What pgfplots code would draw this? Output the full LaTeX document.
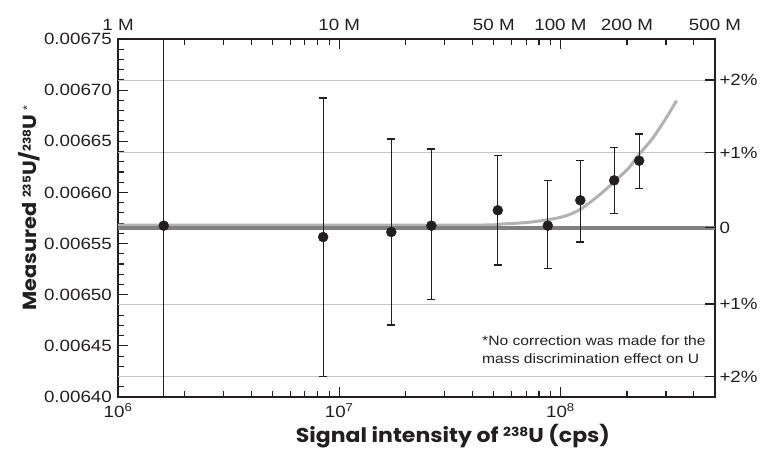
\documentclass[border=0pt]{standalone}
\usepackage{fontspec}
\setmainfont{Liberation Sans}[FakeStretch=1.15]
\newfontfamily\labelfont{Poppins}[FakeStretch=1.1]
\usepackage{pgfplots}
\pgfplotsset{compat=1.18}
\definecolor{ink}{HTML}{231F20}
\definecolor{zeroline}{HTML}{808080}
\definecolor{fitcurve}{HTML}{B2B2B2}
\definecolor{gridgray}{HTML}{C4C4C4}

\newcommand{\tickfont}{\fontsize{16.3bp}{18bp}\selectfont}
\newcommand{\axlabfont}{\labelfont\bfseries\fontsize{20bp}{22bp}\selectfont}
\newcommand{\iso}[1]{\raisebox{6.5bp}{\fontsize{12.5bp}{13bp}\selectfont #1}}
\newcommand{\isoy}[1]{\raisebox{6bp}{\fontsize{11bp}{12bp}\selectfont #1}}

\begin{document}
\begin{tikzpicture}
\useasboundingbox (-118bp,-64bp) rectangle (645bp,397bp);
\begin{axis}[
  scale only axis, width=597bp, height=358bp,
  xmode=log, xmin=1e6, xmax=5e8,
  ymin=0.0064, ymax=0.00675,
  scaled y ticks=false,
  xtick={1e6,1e7,1e8},
  xticklabels={10\textsuperscript{6},10\textsuperscript{7},10\textsuperscript{8}},
  minor xtick={2e6,3e6,4e6,5e6,6e6,7e6,8e6,9e6,2e7,3e7,4e7,5e7,6e7,7e7,8e7,9e7,2e8,3e8,4e8},
  ytick={0.0064,0.00645,0.0065,0.00655,0.0066,0.00665,0.0067,0.00675},
  yticklabels={0.00640,0.00645,0.00650,0.00655,0.00660,0.00665,0.00670,0.00675},
  minor y tick num=4,
  xtick pos=both, ytick pos=left,
  tick align=inside,
  major tick length=10bp, minor tick length=6bp,
  every tick/.style={ink, line width=1.1bp},
  axis line style={ink, line width=1.6bp},
  tick label style={font=\tickfont, text=ink},
  xticklabel style={yshift=-3bp},
  yticklabel style={inner sep=0pt, xshift=-6bp},
  extra y ticks={0.0064199,0.0064909,0.0066388,0.0067099},
  extra y tick labels={},
  extra y tick style={grid=major, major tick length=0pt,
    major grid style={draw=gridgray, line width=1bp}},
  xlabel={Signal intensity of \iso{238}U (cps)},
  ylabel={Measured \isoy{235}U/\isoy{238}U \isoy{\normalfont *}},
  label style={font=\axlabfont, text=ink},
  xlabel style={at={(ticklabel cs:0.561)}, anchor=north},
  ylabel style={at={(ticklabel cs:0.528)}, anchor=south,
    font=\labelfont\bfseries\fontsize{19bp}{21bp}\selectfont},
  clip=true,
]
% fitted trend
\addplot[fitcurve, line width=3bp, smooth, forget plot] coordinates {
  (1e6,0.006568) (3.5e7,0.006568) (5.5e7,0.0065692) (7.5e7,0.0065712)
  (1.024e8,0.0065762) (1.231e8,0.0065835) (1.5e8,0.0065975)
  (1.753e8,0.0066105) (2.049e8,0.0066246) (2.257e8,0.0066366)
  (2.61e8,0.0066529) (3.0e8,0.0066725) (3.35e8,0.0066897)
};
% reference ratio line
\addplot[zeroline, line width=4bp, forget plot] coordinates {(1e6,0.0065655) (5e8,0.0065655)};
% measurements
\addplot[ink, only marks, mark=*, mark size=5bp,
  mark options={fill=ink, draw=ink},
  error bars/.cd, y dir=both, y explicit,
  error bar style={ink, line width=1.2bp},
  error mark options={rotate=90, mark size=4bp, line width=1.2bp, ink}]
coordinates {
  (1.61e6,0.0065675) +- (0,0.00025)
  (8.46e6,0.0065564) +- (0,0.000136)
  (1.72e7,0.0065613) +- (0,0.000091)
  (2.61e7,0.0065675) += (0,0.000075) -= (0,0.000072)
  (5.21e7,0.0065825) +- (0,0.0000534)
  (8.77e7,0.0065675) += (0,0.0000443) -= (0,0.0000415)
  (1.23e8,0.0065923) += (0,0.0000387) -= (0,0.0000408)
  (1.75e8,0.0066118) +- (0,0.0000323)
  (2.27e8,0.006631) += (0,0.0000261) -= (0,0.0000274)
};
\node[anchor=north west, align=left, inner sep=0pt, text=ink,
  font=\fontsize{13.6bp}{18bp}\selectfont]
  at (rel axis cs:0.6097,0.173)
  {*No correction was made for the\\mass discrimination effect on U};
\end{axis}
% top scale and right-hand deviation scale
\begin{axis}[
  scale only axis, width=597bp, height=358bp,
  xmode=log, xmin=1e6, xmax=5e8,
  ymin=0.0064, ymax=0.00675,
  scaled y ticks=false,
  axis line style={draw=none},
  xtick pos=right, xticklabel pos=right,
  ytick pos=right, yticklabel pos=right,
  xtick={1e6,1e7,5e7,1e8,2e8,5e8},
  xticklabels={1 M,10 M,50 M,100 M,200 M,500 M},
  xminorticks=false, yminorticks=false,
  xtick style={draw=none},
  ytick={0.0064199,0.0064909,0.0065655,0.0066388,0.0067099},
  yticklabels={+2\%,+1\%,0,+1\%,+2\%},
  tick align=inside, major tick length=10bp,
  ytick style={ink, line width=1.1bp},
  tick label style={font=\tickfont, text=ink},
  xticklabel style={inner sep=0pt, yshift=8bp},
  yticklabel style={xshift=1bp},
]
\end{axis}
\end{tikzpicture}
\end{document}
